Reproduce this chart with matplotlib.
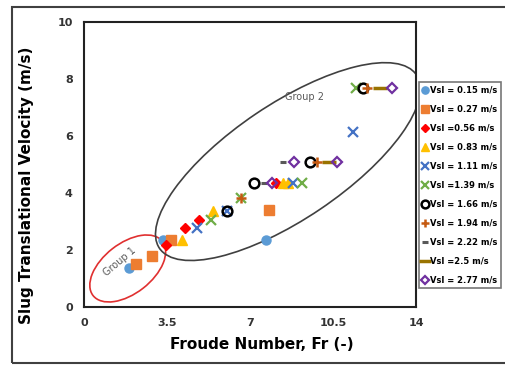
import numpy as np
import matplotlib.pyplot as plt
from matplotlib.patches import Ellipse, Rectangle
from matplotlib.transforms import ScaledTranslation

# data (Froude number, slug velocity)
labels = ["Vsl = 0.15 m/s", "Vsl = 0.27 m/s", "Vsl =0.56 m/s", "Vsl = 0.83 m/s",
          "Vsl = 1.11 m/s", "Vsl =1.39 m/s", "Vsl = 1.66 m/s", "Vsl = 1.94 m/s",
          "Vsl = 2.22 m/s", "Vsl =2.5 m/s", "Vsl = 2.77 m/s"]
fr_015 = [1.91, 3.35, 7.67]
vt_015 = [1.36, 2.35, 2.35]
fr_027 = [2.18, 2.88, 3.66, 7.79]
vt_027 = [1.50, 1.79, 2.35, 3.40]
fr_056 = [3.46, 4.26, 4.87, 8.09]
vt_056 = [2.18, 2.76, 3.05, 4.36]
fr_083 = [4.12, 5.43, 8.38, 8.62]
vt_083 = [2.35, 3.38, 4.36, 4.36]
fr_111 = [4.75, 6.03, 8.83, 11.32]
vt_111 = [2.76, 3.38, 4.36, 6.13]
fr_139 = [5.34, 6.61, 9.21, 11.48]
vt_139 = [3.05, 3.84, 4.36, 7.67]
fr_166 = [6.03, 7.17, 9.54, 11.76]
vt_166 = [3.38, 4.36, 5.10, 7.67]
fr_194 = [6.61, 9.82, 11.93]
vt_194 = [3.84, 5.10, 7.67]
fr_222 = [7.57, 8.38]
vt_222 = [4.36, 5.10]
fr_250 = [10.31, 12.49]
vt_250 = [5.10, 7.67]
fr_277 = [7.92, 8.86, 10.66, 12.98]
vt_277 = [4.36, 5.10, 5.10, 7.67]

fig = plt.figure(figsize=(5.05, 3.65), dpi=100)
ax = fig.add_axes([0.166, 0.159, 0.658, 0.781])

# outer frame
fig.patches.append(Rectangle((12/505, 1-363/365), 1.0, (363-7)/365, transform=fig.transFigure,
                             fill=False, edgecolor='#404040', linewidth=1.5))

ax.plot(fr_015, vt_015, 'o', color='#5B9BD5', ms=6.5, label=labels[0], zorder=3)
ax.plot(fr_027, vt_027, 's', color='#ED7D31', ms=6.5, label=labels[1], zorder=3)
ax.plot(fr_056, vt_056, 'D', color='#FF0000', ms=5, label=labels[2], zorder=3)
ax.plot(fr_083, vt_083, '^', color='#FFC000', ms=6.5, label=labels[3], zorder=3)
ax.plot(fr_111, vt_111, 'x', color='#4472C4', ms=6.5, mew=1.6, label=labels[4], zorder=3)
ax.plot(fr_139, vt_139, 'x', color='#70AD47', ms=6.5, mew=1.6, label=labels[5], zorder=3)
ax.plot(fr_166, vt_166, 'o', color='black', mfc='none', ms=7, mew=1.8, label=labels[6], zorder=4)
ax.plot(fr_194, vt_194, '+', color='#C55A11', ms=7, mew=1.8, label=labels[7], zorder=4)
ax.plot(fr_222, vt_222, '_', color='#595959', ms=5, mew=2.2, label=labels[8], zorder=3)
ax.plot(fr_250, vt_250, '_', color='#997300', ms=10, mew=2.5, label=labels[9], zorder=3)
ax.plot(fr_277, vt_277, 'D', color='#7030A0', mfc='none', ms=5.5, mew=1.6, label=labels[10], zorder=4)

# group ellipses, sized in pixels around a data centre
def ring(cx, cy, w, h, ang, col):
    tr = fig.dpi_scale_trans + ScaledTranslation(cx, cy, ax.transData)
    ax.add_patch(Ellipse((0, 0), w/100, h/100, angle=ang, transform=tr,
                         fill=False, edgecolor=col, linewidth=1.2, zorder=2))

ring(1.85, 1.35, 88, 50, 38, '#E03030')
ring(8.6, 5.1, 310, 115, 34, '#404040')

ax.text(1.5, 1.6, "Group 1", rotation=40, fontsize=7, color='#595959', ha='center', va='center')
ax.text(9.28, 7.37, "Group 2", fontsize=7, color='#595959', ha='center', va='center')

ax.set_xlim(0, 14)
ax.set_ylim(0, 10)
ax.set_xticks([0, 3.5, 7, 10.5, 14])
ax.set_xticklabels(['0', '3.5', '7', '10.5', '14'])
ax.set_yticks([0, 2, 4, 6, 8, 10])
ax.tick_params(length=0, labelsize=8, labelcolor='#333333', pad=8)
for t in ax.get_xticklabels() + ax.get_yticklabels():
    t.set_fontweight('bold')
for s in ax.spines.values():
    s.set_linewidth(1.5)
    s.set_color('#222222')

ax.set_xlabel('Froude Number, Fr (-)', fontsize=11, fontweight='bold')
ax.set_ylabel('Slug Translational Velocity (m/s)', fontsize=11, fontweight='bold')
ax.xaxis.set_label_coords(0.536, -0.105)
ax.yaxis.set_label_coords(-0.15, 0.425)

leg = ax.legend(loc='upper left', bbox_to_anchor=(1.009, 0.79), handlelength=0.6,
                handletextpad=0.2, borderpad=0.45, labelspacing=1.2, frameon=True,
                fancybox=False, edgecolor='#555555', borderaxespad=0, markerscale=0.8,
                prop={'weight': 'bold', 'size': 6})
leg.get_frame().set_linewidth(1.2)

plt.savefig('out.png', dpi=100)
